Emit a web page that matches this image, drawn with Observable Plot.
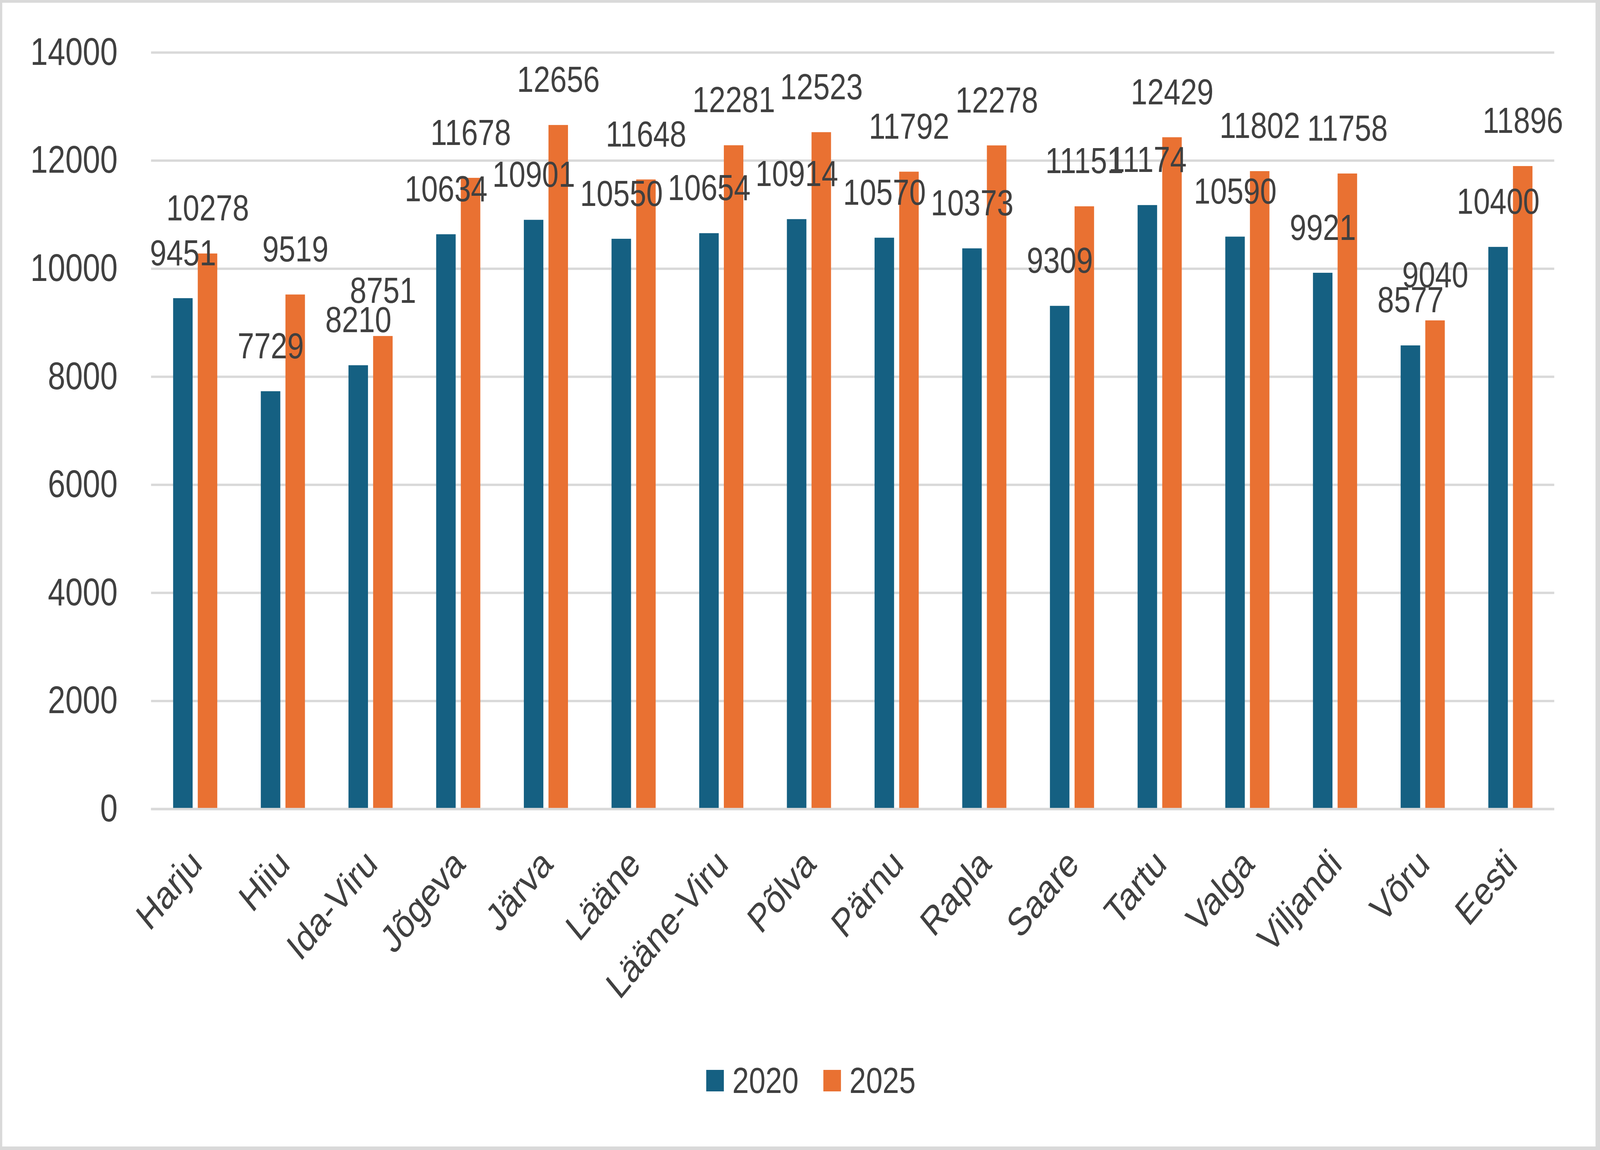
<!DOCTYPE html>
<html><head><meta charset="utf-8">
<script src="https://cdn.jsdelivr.net/npm/d3@7"></script>
<script src="https://cdn.jsdelivr.net/npm/@observablehq/plot@0.6"></script>
<style>
html,body{margin:0;padding:0;background:#fff;overflow:hidden;}
#wrap{position:absolute;left:0;top:0;width:5000px;height:2943px;background:#fff;overflow:hidden;font-family:"Liberation Sans",Arial,sans-serif;transform-origin:0 0;}
#chart{position:absolute;left:0;top:0;width:5000px;}
#chart svg{max-width:none;}
#border{position:absolute;left:0;top:0;right:0;bottom:0;border:7px solid #d9d9d9;border-right-width:14px;border-bottom-width:9px;box-sizing:border-box;pointer-events:none;}
#legend{position:absolute;top:2712px;left:34px;width:5000px;height:106px;display:flex;justify-content:center;align-items:center;gap:77px;font-size:93px;color:#404040;}
.item{display:flex;align-items:center;gap:27px;}
.sw{width:55px;height:55px;display:inline-block;}
</style></head>
<body><div id="wrap"><div id="chart"></div><div id="legend"></div><div id="border"></div></div>
<script>
const categories = ["Harju","Hiiu","Ida-Viru","Jõgeva","Järva","Lääne","Lääne-Viru","Põlva","Pärnu","Rapla","Saare","Tartu","Valga","Viljandi","Võru","Eesti"];
const values2020 = [9451,7729,8210,10634,10901,10550,10654,10914,10570,10373,9309,11174,10590,9921,8577,10400];
const values2025 = [10278,9519,8751,11678,12656,11648,12281,12523,11792,12278,11151,12429,11802,11758,9040,11896];
const seriesNames = ["2020","2025"];
const seriesColors = ["#156082","#E97132"];
const yTicks = [0,2000,4000,6000,8000,10000,12000,14000];

// Layout designed for a 5000 x 2943 frame, then fitted to the actual window.
const W = 5000, H = 2650, ml = 472, mr = 143, mt = 134, mb = H - 2070;
const step = (W - ml - mr) / categories.length;
const half = step / 2, outer = 69, inner = 8;
const off = (outer + inner) / 2;

const d2020 = categories.map((c, i) => ({c, v: values2020[i]}));
const d2025 = categories.map((c, i) => ({c, v: values2025[i]}));
const txt = "#404040";

const chart = Plot.plot({
  width: W, height: H,
  marginLeft: ml, marginRight: mr, marginTop: mt, marginBottom: mb,
  style: {fontFamily: '"Liberation Sans", Arial, sans-serif', background: "transparent", color: txt, maxWidth: "none"},
  x: {domain: categories, padding: 0, axis: null},
  y: {domain: [0, 14000], axis: null},
  marks: [
    Plot.gridY(yTicks, {stroke: "#d9d9d9", strokeOpacity: 1, strokeWidth: 6}),
    Plot.axisY(yTicks, {tickSize: 0, tickPadding: 105, fontSize: 98, fill: txt, tickFormat: d => String(d), label: null}),
    Plot.barY(d2020, {x: "c", y: "v", fill: seriesColors[0], insetLeft: half - outer, insetRight: half + inner}),
    Plot.barY(d2025, {x: "c", y: "v", fill: seriesColors[1], insetLeft: half + inner, insetRight: half - outer}),
    Plot.ruleY([0], {stroke: "#d9d9d9", strokeWidth: 6}),
    Plot.text(d2020, {x: "c", y: "v", text: d => String(d.v), dx: -off, dy: -85, lineAnchor: "bottom", fontSize: 93, fill: txt}),
    Plot.text(d2025, {x: "c", y: "v", text: d => String(d.v), dx: off, dy: -85, lineAnchor: "bottom", fontSize: 93, fill: txt}),
    Plot.text(categories, {x: d => d, text: d => d, frameAnchor: "bottom", rotate: -45, textAnchor: "end", lineAnchor: "bottom", dx: 26, dy: 146, fontSize: 100, fill: txt})
  ]
});
document.getElementById("chart").appendChild(chart);

const legend = document.getElementById("legend");
seriesNames.forEach((n, i) => {
  const item = document.createElement("div");
  item.className = "item";
  const sw = document.createElement("span");
  sw.className = "sw";
  sw.style.background = seriesColors[i];
  const lab = document.createElement("span");
  lab.textContent = n;
  item.appendChild(sw); item.appendChild(lab);
  legend.appendChild(item);
});

function fit() {
  const sx = (window.innerWidth || 5000) / 5000;
  const sy = (window.innerHeight || 2943) / 2943;
  document.getElementById("wrap").style.transform = `scale(${sx}, ${sy})`;
}
fit();
window.addEventListener("resize", fit);
</script>
</body></html>
